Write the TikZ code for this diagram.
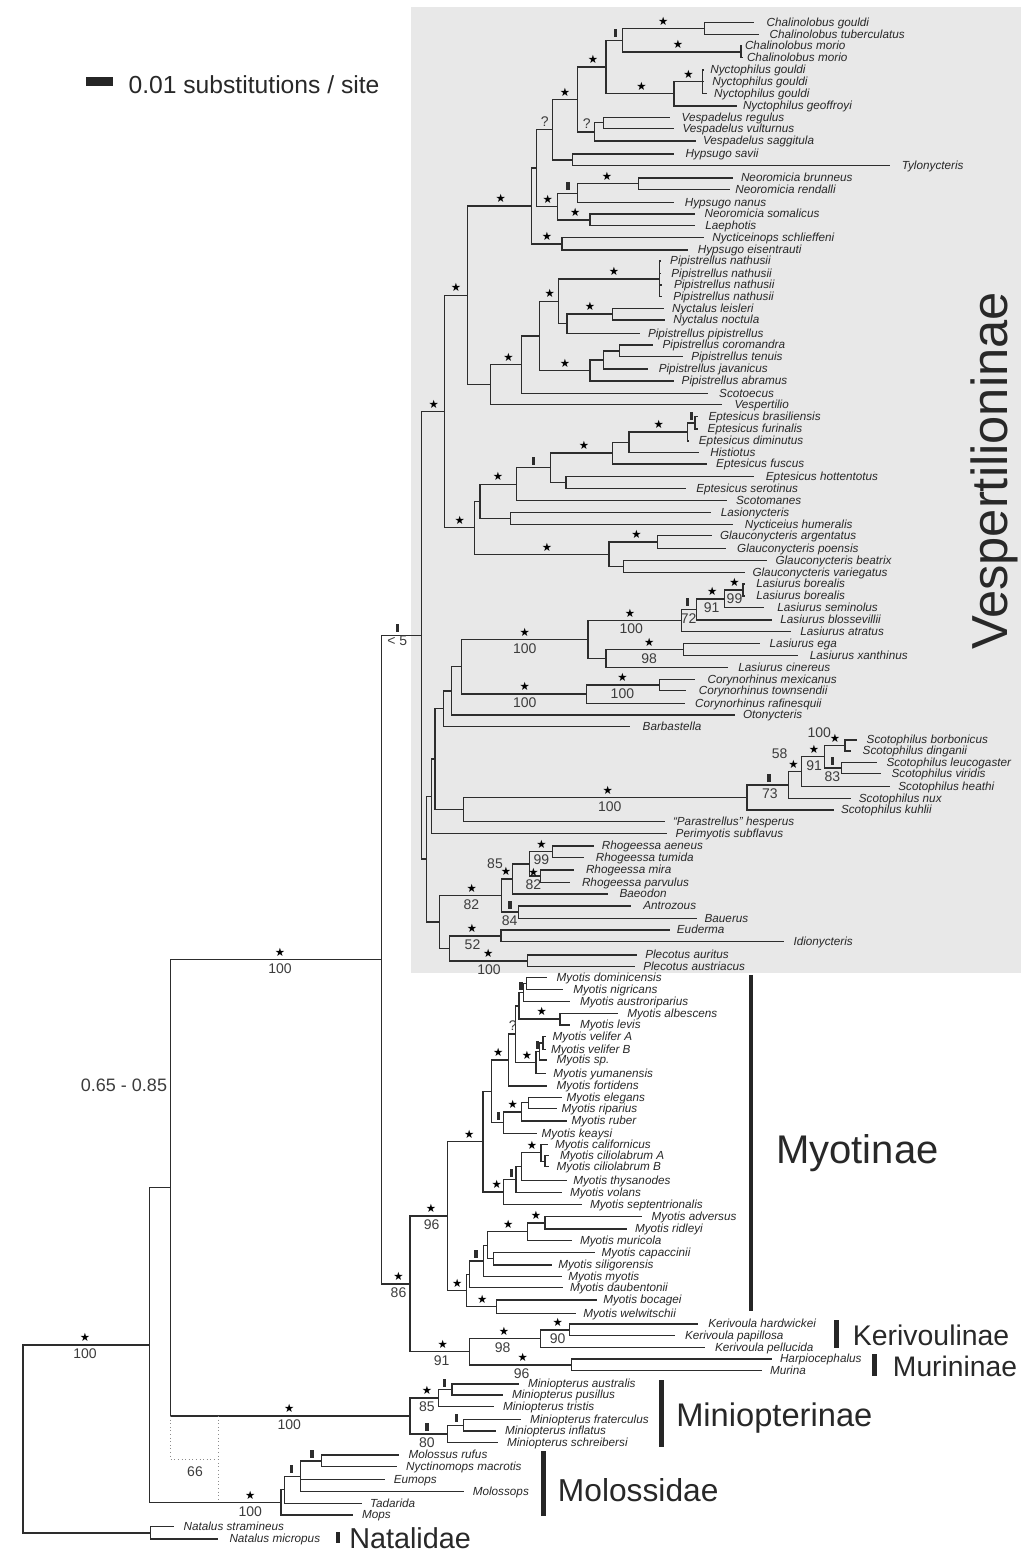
\documentclass[tikz,border=0pt]{standalone}
\usepackage{fontspec}
\setmainfont{Liberation Sans}
\newfontfamily\starfont{DejaVu Sans}
\usetikzlibrary{calc}
\definecolor{boxgray}{RGB}{232,232,232}
\definecolor{linec}{RGB}{45,45,45}
\definecolor{txtc}{RGB}{40,40,40}
\definecolor{valc}{RGB}{60,60,60}
\newcounter{annc}
\newcommand{\TTip}[5]{\coordinate (#1) at (#2,#4); \node[tiplab] (#1l) at (#3,#4) {#5};}
\newcommand{\TNode}[4]{\path ($(#3)!0.5!(#4)$) coordinate (#1m); \coordinate (#1) at (#2,0 |- #1m);}
\newcommand{\TBr}[2]{\foreach \chl in {#2} {\draw[br] (#1) |- (\chl);}}
\newcommand{\TBin}[4]{\TNode{#1}{#2}{#3}{#4}\TBr{#1}{#3,#4}}
\newcommand{\TStar}[2]{\stepcounter{annc}\node[stmark] (a\arabic{annc}) at (#1,0 |- #2) {★};}
\newcommand{\TStarAt}[2]{\stepcounter{annc}\node[stmark, yshift=-5.6pt] (a\arabic{annc}) at (#1,#2) {★};}
\newcommand{\TVal}[3]{\stepcounter{annc}\node[valb] (a\arabic{annc}) at (#1,0 |- #2) {#3};}
\newcommand{\TQ}[2]{\stepcounter{annc}\node[qmark] (a\arabic{annc}) at (#1,0 |- #2) {?};}
\newcommand{\TLab}[3]{\stepcounter{annc}\node[vala] (a\arabic{annc}) at (#1,#2) {#3};}
\newcommand{\TBar}[2]{\path (#1,0 |- #2) coordinate (bartmp); \fill[linec] ([shift={(-1.7,-11)}]bartmp) rectangle ([shift={(1.7,-3)}]bartmp);}
\tikzset{
 br/.style={draw=linec, line width=1pt},
 tiplab/.style={anchor=base west, inner sep=0pt, outer sep=0pt, yshift=-2.8pt, text=txtc, font=\fontsize{8.8}{9}\selectfont\itshape},
 stmark/.style={inner sep=0pt, yshift=5.6pt, text=black, font=\starfont\fontsize{8.6}{8.6}\selectfont},
 valb/.style={inner sep=0pt, yshift=-6.6pt, text=valc, font=\fontsize{10.5}{10.5}\selectfont},
 vala/.style={inner sep=0pt, text=valc, font=\fontsize{10.5}{10.5}\selectfont},
 qmark/.style={inner sep=0pt, yshift=6.3pt, text=valc, font=\fontsize{10.5}{10.5}\selectfont},
 clab/.style={anchor=base west, inner sep=0pt, text=txtc},
 cbar/.style={fill=black!85},
 dotline/.style={draw=black!45, line width=0.7pt, dotted},
}
\begin{document}
\begin{tikzpicture}[x=0.75pt,y=-0.75pt]
\useasboundingbox (0,0) rectangle (1035,1558);
\fill[boxgray] (411,7) rectangle (1021,973);
% ---------- tips ----------
\TTip{t1}{754.4}{766.7}{22.7}{Chalinolobus gouldi}
\TTip{t2}{759}{769.7}{34.3}{Chalinolobus tuberculatus}
\TTip{t3}{741.5}{745}{46}{Chalinolobus morio}
\TTip{t4}{743}{747}{57.7}{Chalinolobus morio}
\TTip{t5}{703.5}{710.4}{70}{Nyctophilus gouldi}
\TTip{t6}{704}{712.3}{81.7}{Nyctophilus gouldi}
\TTip{t7}{706.6}{714.2}{93.3}{Nyctophilus gouldi}
\TTip{t8}{737.2}{743}{106}{Nyctophilus geoffroyi}
\TTip{t9}{670.2}{681.7}{117.3}{Vespadelus regulus}
\TTip{t10}{674}{682.5}{128.3}{Vespadelus vulturnus}
\TTip{t11}{696}{703}{141}{Vespadelus saggitula}
\TTip{t12}{674}{685.5}{154}{Hypsugo savii}
\TTip{t13}{890.3}{901.8}{165.7}{Tylonycteris}
\TTip{t14}{733.4}{741}{178}{Neoromicia brunneus}
\TTip{t15}{729.5}{735.3}{189.3}{Neoromicia rendalli}
\TTip{t16}{674}{684.8}{202.7}{Hypsugo nanus}
\TTip{t17}{695.1}{704.7}{214}{Neoromicia somalicus}
\TTip{t18}{695.1}{705.4}{225.7}{Laephotis}
\TTip{t19}{704}{712.3}{237.7}{Nycticeinops schlieffeni}
\TTip{t20}{687.5}{697.8}{250}{Hypsugo eisentrauti}
\TTip{t21}{660.5}{670.2}{261}{Pipistrellus nathusii}
\TTip{t22}{661}{671.4}{273.3}{Pipistrellus nathusii}
\TTip{t23}{662}{674}{285}{Pipistrellus nathusii}
\TTip{t24}{662}{673.3}{296.7}{Pipistrellus nathusii}
\TTip{t25}{664}{672.1}{308.3}{Nyctalus leisleri}
\TTip{t26}{665}{673.3}{320}{Nyctalus noctula}
\TTip{t27}{639.6}{648}{333.3}{Pipistrellus pipistrellus}
\TTip{t28}{653}{662.6}{345}{Pipistrellus coromandra}
\TTip{t29}{682.5}{691.3}{356.7}{Pipistrellus tenuis}
\TTip{t30}{648}{658.8}{369}{Pipistrellus javanicus}
\TTip{t31}{674}{681.7}{381}{Pipistrellus abramus}
\TTip{t32}{707.7}{719.2}{393.3}{Scotoecus}
\TTip{t33}{721.9}{734.5}{404.3}{Vespertilio}
\TTip{t34}{697.8}{708.5}{416.7}{Eptesicus brasiliensis}
\TTip{t35}{697.8}{707.7}{429}{Eptesicus furinalis}
\TTip{t36}{689.4}{698.9}{441}{Eptesicus diminutus}
\TTip{t37}{698.9}{710.4}{452.7}{Histiotus}
\TTip{t38}{706.6}{716.2}{464}{Eptesicus fuscus}
\TTip{t39}{754.4}{765.9}{476.7}{Eptesicus hottentotus}
\TTip{t40}{685.5}{696.3}{488.3}{Eptesicus serotinus}
\TTip{t41}{727}{736.1}{500.7}{Scotomanes}
\TTip{t42}{711.2}{720.8}{512.3}{Lasionycteris}
\TTip{t43}{733.4}{744.9}{524.3}{Nycticeius humeralis}
\TTip{t44}{712}{720}{535.7}{Glauconycteris argentatus}
\TTip{t45}{725.7}{737.2}{548.3}{Glauconycteris poensis}
\TTip{t46}{767}{775.5}{560.7}{Glauconycteris beatrix}
\TTip{t47}{745}{752.5}{572.7}{Glauconycteris variegatus}
\TTip{t48}{745}{756.3}{584}{Lasiurus borealis}
\TTip{t49}{745}{756.3}{596}{Lasiurus borealis}
\TTip{t50}{764}{777.4}{607.7}{Lasiurus seminolus}
\TTip{t51}{771.6}{780.4}{620}{Lasiurus blossevillii}
\TTip{t52}{790.8}{800.4}{631.3}{Lasiurus atratus}
\TTip{t53}{760.2}{769.7}{643.3}{Lasiurus ega}
\TTip{t54}{798.4}{809.9}{655.7}{Lasiurus xanthinus}
\TTip{t55}{727.6}{738.4}{667.3}{Lasiurus cinereus}
\TTip{t56}{695.1}{707.7}{679.3}{Corynorhinus mexicanus}
\TTip{t57}{685.5}{698.9}{690.7}{Corynorhinus townsendii}
\TTip{t58}{684.8}{695.1}{703.3}{Corynorhinus rafinesquii}
\TTip{t59}{735}{743}{715}{Otonycteris}
\TTip{t60}{630}{642.7}{726.3}{Barbastella}
\TTip{t61}{856.8}{866.7}{740}{Scotophilus borbonicus}
\TTip{t62}{850.9}{862.7}{751}{Scotophilus dinganii}
\TTip{t63}{876.6}{886.5}{762.7}{Scotophilus leucogaster}
\TTip{t64}{880.5}{891.6}{773.3}{Scotophilus viridis}
\TTip{t65}{890}{898.3}{786.7}{Scotophilus heathi}
\TTip{t66}{850.9}{858.8}{798.3}{Scotophilus nux}
\TTip{t67}{834}{841}{810}{Scotophilus kuhlii}
\TTip{t68}{665}{673}{821.7}{``Parastrellus'' hesperus}
\TTip{t69}{667}{675.7}{833.3}{Perimyotis subflavus}
\TTip{t70}{593.9}{601.8}{846}{Rhogeessa aeneus}
\TTip{t71}{584}{595.8}{857.3}{Rhogeessa tumida}
\TTip{t72}{574.1}{586}{870}{Rhogeessa mira}
\TTip{t73}{570.1}{582}{882.3}{Rhogeessa parvulus}
\TTip{t74}{607.7}{619.6}{894}{Baeodon}
\TTip{t75}{631.4}{643.3}{906}{Antrozous}
\TTip{t76}{697}{704.6}{918.3}{Bauerus}
\TTip{t77}{670}{676.9}{930}{Euderma}
\TTip{t78}{783.7}{793.5}{941.7}{Idionycteris}
\TTip{t79}{637}{645.3}{955}{Plecotus auritus}
\TTip{t80}{635}{643.3}{966.7}{Plecotus austriacus}
\TTip{t81}{546.7}{556.7}{977.3}{Myotis dominicensis}
\TTip{t82}{563.3}{573.3}{989.3}{Myotis nigricans}
\TTip{t83}{570}{580}{1001.7}{Myotis austroriparius}
\TTip{t84}{618.3}{627.3}{1013.3}{Myotis albescens}
\TTip{t85}{570}{580}{1025}{Myotis levis}
\TTip{t86}{546}{552.7}{1036.7}{Myotis velifer A}
\TTip{t87}{546}{551}{1049.3}{Myotis velifer B}
\TTip{t88}{547}{556.7}{1060}{Myotis sp.}
\TTip{t89}{546}{553.3}{1073.3}{Myotis yumanensis}
\TTip{t90}{546.7}{556.7}{1086}{Myotis fortidens}
\TTip{t91}{561.7}{566.7}{1097.3}{Myotis elegans}
\TTip{t92}{556.7}{561.7}{1108.3}{Myotis riparius}
\TTip{t93}{566.7}{571.7}{1121}{Myotis ruber}
\TTip{t94}{536.7}{541.7}{1133.3}{Myotis keaysi}
\TTip{t95}{548.3}{555}{1144.3}{Myotis californicus}
\TTip{t96}{549}{560}{1155.7}{Myotis ciliolabrum A}
\TTip{t97}{549}{556.7}{1166.7}{Myotis ciliolabrum B}
\TTip{t98}{566.7}{573.3}{1180.7}{Myotis thysanodes}
\TTip{t99}{562}{570}{1192.3}{Myotis volans}
\TTip{t100}{582}{590}{1204.3}{Myotis septentrionalis}
\TTip{t101}{641.7}{651.7}{1216.7}{Myotis adversus}
\TTip{t102}{626.7}{635}{1229}{Myotis ridleyi}
\TTip{t103}{572}{580}{1240.7}{Myotis muricola}
\TTip{t104}{595}{601.7}{1252.3}{Myotis capaccinii}
\TTip{t105}{551.7}{558.3}{1265}{Myotis siligorensis}
\TTip{t106}{561.7}{568.3}{1276.7}{Myotis myotis}
\TTip{t107}{563}{570}{1287.7}{Myotis daubentonii}
\TTip{t108}{597}{603.3}{1300}{Myotis bocagei}
\TTip{t109}{576}{583.3}{1313.3}{Myotis welwitschii}
\TTip{t110}{698.3}{708.3}{1324}{Kerivoula hardwickei}
\TTip{t111}{675}{685}{1335.7}{Kerivoula papillosa}
\TTip{t112}{705}{715}{1347.3}{Kerivoula pellucida}
\TTip{t113}{771.7}{780}{1359}{Harpiocephalus}
\TTip{t114}{761.7}{770}{1370.7}{Murina}
\TTip{t115}{519}{528}{1384}{Miniopterus australis}
\TTip{t116}{503}{512}{1395}{Miniopterus pusillus}
\TTip{t117}{494}{503}{1406.7}{Miniopterus tristis}
\TTip{t118}{521}{530}{1419.3}{Miniopterus fraterculus}
\TTip{t119}{496}{505}{1431}{Miniopterus inflatus}
\TTip{t120}{498}{507}{1442.7}{Miniopterus schreibersi}
\TTip{t121}{399}{408.5}{1455}{Molossus rufus}
\TTip{t122}{397}{406.2}{1466.7}{Nyctinomops macrotis}
\TTip{t123}{385}{393.8}{1479.3}{Eumops}
\TTip{t124}{463.6}{472.8}{1491.7}{Molossops}
\TTip{t125}{362}{370}{1503.3}{Tadarida}
\TTip{t126}{353}{362}{1515}{Mops}
\TTip{t127}{174.4}{183.6}{1526.7}{Natalus stramineus}
\TTip{t128}{218}{229.5}{1539}{Natalus micropus}
% ---------- internal nodes ----------
\TBin{n_cg}{704.7}{t1}{t2}
\TBin{n_cm}{741}{t3}{t4}
\TBin{n_ch}{622.4}{n_cg}{n_cm}
\TNode{n_ng3}{702.8}{t5}{t7}\TBr{n_ng3}{t5,t6,t7}
\TBin{n_ny}{674}{n_ng3}{t8}
\TBin{n_chny}{606}{n_ch}{n_ny}
\TBin{n_v1}{603.3}{t9}{t10}
\TBin{n_v2}{594.8}{n_v1}{t11}
\TBin{n_ChNyV}{577.2}{n_chny}{n_v2}
\TBin{n_hs}{572.6}{t12}{t13}
\TBin{n_A}{552.4}{n_ChNyV}{n_hs}
\TBin{n_nr}{638.5}{t14}{t15}
\TBin{n_neo1}{577.2}{n_nr}{t16}
\TBin{n_sl}{589.9}{t17}{t18}
\TBin{n_neo2}{557.3}{n_neo1}{n_sl}
\TBin{n_P}{536.3}{n_A}{n_neo2}
\TBin{n_nyc}{561.9}{t19}{t20}
\TBin{n_Q}{531.7}{n_P}{n_nyc}
\TNode{n_nat}{659.5}{t21}{t24}\TBr{n_nat}{t21,t22,t23,t24}
\TBin{n_nyct}{612.8}{t25}{t26}
\TBin{n_pn2}{566.9}{n_nyct}{t27}
\TBin{n_pn3}{558.5}{n_nat}{n_pn2}
\TBin{n_pj}{619.7}{t28}{t29}
\TBin{n_pj2}{603.3}{n_pj}{t30}
\TBin{n_pj3}{589.9}{n_pj2}{t31}
\TBin{n_pn4}{539.4}{n_pn3}{n_pj3}
\TBin{n_pn5}{521.7}{n_pn4}{t32}
\TBin{n_pn6}{490.4}{n_pn5}{t33}
\TBin{n_V1}{467.4}{n_Q}{n_pn6}
\TBin{n_eb}{695.1}{t34}{t35}
\TBin{n_eb2}{687.5}{n_eb}{t36}
\TBin{n_eb3}{628.9}{n_eb2}{t37}
\TBin{n_eb4}{612.8}{n_eb3}{t38}
\TBin{n_eh}{566.1}{t39}{t40}
\TBin{n_eb5}{550.8}{n_eb4}{n_eh}
\TBin{n_eb6}{516.4}{n_eb5}{t41}
\TBin{n_ln}{510.3}{t42}{t43}
\TBin{n_eb7}{480}{n_eb6}{n_ln}
\TBin{n_ga}{657.6}{t44}{t45}
\TBin{n_gb}{623.5}{t46}{t47}
\TBin{n_gl}{609}{n_ga}{n_gb}
\TBin{n_E}{474.3}{n_eb7}{n_gl}
\TBin{n_VVE}{444.4}{n_V1}{n_E}
\TBin{n_lb}{743}{t48}{t49}
\TBin{n_lb2}{724.6}{n_lb}{t50}
\TBin{n_lb3}{696.3}{n_lb2}{t51}
\TBin{n_lb4}{681.7}{n_lb3}{t52}
\TBin{n_le}{683.6}{t53}{t54}
\TBin{n_le2}{605.9}{n_le}{t55}
\TBin{n_las}{588}{n_lb4}{n_le2}
\TBin{n_cm2}{659.5}{t56}{t57}
\TBin{n_cor}{586.8}{n_cm2}{t58}
\TBin{n_lc}{461.7}{n_las}{n_cor}
\TBin{n_lco}{451.3}{n_lc}{t59}
\TBin{n_lcob}{443.7}{n_lco}{t60}
\TBin{n_sb}{844.9}{t61}{t62}
\TBin{n_sl2}{841.8}{t63}{t64}
\TBin{n_s3}{824.4}{n_sb}{n_sl2}
\TBin{n_s4}{801.4}{n_s3}{t65}
\TBin{n_s5}{788.8}{n_s4}{t66}
\TBin{n_s6}{746.9}{n_s5}{t67}
\TBin{n_sp}{463.4}{n_s6}{t68}
\TBin{n_X1}{434.9}{n_lcob}{n_sp}
\TBin{n_X2}{431.7}{n_X1}{t69}
\TBin{n_ra}{552.3}{t70}{t71}
\TBin{n_rm}{540.5}{t72}{t73}
\TBin{n_r3}{529.8}{n_ra}{n_rm}
\TBin{n_r4}{512.8}{n_r3}{t74}
\TBin{n_ab}{518.7}{t75}{t76}
\TBin{n_r5}{501.7}{n_r4}{n_ab}
\TBin{n_ei}{500.9}{t77}{t78}
\TBin{n_pl}{527.8}{t79}{t80}
\TBin{n_ep}{449.5}{n_ei}{n_pl}
\TBin{n_R}{439.7}{n_r5}{n_ep}
\TBin{n_X3}{426.6}{n_X2}{n_R}
\TBin{n_Ves}{421.5}{n_VVE}{n_X3}
\TBin{n_m1}{526.7}{t81}{t82}
\TBin{n_m2}{523.3}{n_m1}{t83}
\TBin{n_al}{560}{t84}{t85}
\TBin{n_m3}{519}{n_m2}{n_al}
\TBin{n_vel}{543}{t86}{t87}
\TBin{n_vs}{539.5}{n_vel}{t88}
\TBin{n_vy}{536}{n_vs}{t89}
\TBin{n_m4}{515.5}{n_m3}{n_vy}
\TBin{n_m5}{508.3}{n_m4}{t90}
\TBin{n_er}{528.3}{t91}{t92}
\TBin{n_er2}{521.7}{n_er}{t93}
\TBin{n_erk}{503.3}{n_er2}{t94}
\TBin{n_m6}{491.7}{n_m5}{n_erk}
\TBin{n_cab}{545}{t96}{t97}
\TBin{n_ccc}{541}{t95}{n_cab}
\TBin{n_ct}{521.7}{n_ccc}{t98}
\TBin{n_ctv}{516}{n_ct}{t99}
\TBin{n_cts}{503.3}{n_ctv}{t100}
\TBin{n_m7}{483}{n_m6}{n_cts}
\TBin{n_ar}{545}{t101}{t102}
\TBin{n_amu}{527.3}{n_ar}{t103}
\TBin{n_cs}{493.3}{t104}{t105}
\TBin{n_x}{487.3}{n_amu}{n_cs}
\TBin{n_y}{483.3}{n_x}{t106}
\TBin{n_z}{469.3}{n_y}{t107}
\TBin{n_bw}{496.7}{t108}{t109}
\TBin{n_w}{466.7}{n_z}{n_bw}
\TBin{n_m8}{447.3}{n_m7}{n_w}
\TBin{n_k1}{569.3}{t110}{t111}
\TBin{n_k2}{540.7}{n_k1}{t112}
\TBin{n_mu}{571.7}{t113}{t114}
\TBin{n_km}{469.3}{n_k2}{n_mu}
\TBin{n_m9}{410}{n_m8}{n_km}
\TBin{n_VM}{381.7}{n_Ves}{n_m9}
\TBin{n_mi1}{452.1}{t115}{t116}
\TBin{n_mi2}{438.3}{n_mi1}{t117}
\TBin{n_mi3}{463.6}{t118}{t119}
\TBin{n_mi4}{447.5}{n_mi3}{t120}
\TBin{n_mi}{409.9}{n_mi2}{n_mi4}
\TBin{n_VMM}{170.7}{n_VM}{n_mi}
\TBin{n_mo1}{321.3}{t121}{t122}
\TNode{n_mo3}{300.6}{n_mo1}{t124}\TBr{n_mo3}{n_mo1,t123,t124}
\TBin{n_mo4}{284.6}{n_mo3}{t125}
\TBin{n_mo5}{281}{n_mo4}{t126}
\TBin{n_MMV}{149.2}{n_VMM}{n_mo5}
\TBin{n_na}{150.6}{t127}{t128}
\TBin{root}{23}{n_MMV}{n_na}
% alternative (dotted) grouping
\coordinate (altC) at (n_VMM |- n_mi);
\coordinate (altT) at (218,0 |- n_mi);
\coordinate (altB) at (218,0 |- n_mo5);
\path ($(altT)!0.5!(altB)$) coordinate (altM);
\draw[dotline] (altT) -- (altB);
\draw[dotline] (altC) |- (altM);
% ---------- support marks ----------
\TStar{663.3}{n_cg}
\TStar{677.9}{n_cm}
\TBar{615.5}{n_ch}
\TStar{688.6}{n_ng3}
\TStar{641.5}{n_ny}
\TStar{592.9}{n_chny}
\TStar{565}{n_ChNyV}
\TQ{586.8}{n_v2}
\TQ{544.7}{n_A}
\TStar{607.1}{n_nr}
\TBar{568}{n_neo1}
\TStar{547.8}{n_neo2}
\TStar{575.3}{n_sl}
\TStar{547}{n_nyc}
\TStar{500.7}{n_Q}
\TStar{455.9}{n_V1}
\TStar{614}{n_nat}
\TStar{589.9}{n_nyct}
\TStar{549.7}{n_pn3}
\TStar{565}{n_pj3}
\TStar{508.4}{n_pn5}
\TStar{433.7}{n_VVE}
\TBar{691.3}{n_eb}
\TStar{658.8}{n_eb2}
\TStar{584.1}{n_eb4}
\TBar{533.6}{n_eb5}
\TStar{498}{n_eb6}
\TStar{636.6}{n_ga}
\TStar{547}{n_gl}
\TStar{459.8}{n_E}
\TStar{734.5}{n_lb}\TVal{734.5}{n_lb}{99}
\TStar{712.3}{n_lb2}\TVal{711.6}{n_lb2}{91}
\TBar{687.5}{n_lb3}\TVal{688.6}{n_lb3}{72}
\TStar{630}{n_lb4}\TVal{631.2}{n_lb4}{100}
\TStar{649.2}{n_le}\TVal{649.2}{n_le}{98}
\TStar{524.8}{n_las}\TVal{524.8}{n_las}{100}
\TStar{622.4}{n_cm2}\TVal{622.4}{n_cm2}{100}
\TStar{524.8}{n_cor}\TVal{524.8}{n_cor}{100}
\TStar{835}{n_sb}\TLab{819.2}{732.7}{100}
\TStar{814.1}{n_s3}\TVal{814.1}{n_s3}{91}
\TBar{832.3}{n_sl2}\TVal{832.3}{n_sl2}{83}
\TStar{793.5}{n_s4}\TLab{779.7}{753.3}{58}
\TBar{769}{n_s5}\TVal{769.8}{n_s5}{73}
\TStar{607.7}{n_s6}\TVal{609.7}{n_s6}{100}
\TStar{541.5}{n_ra}\TLab{541.3}{859.3}{99}
\TStarAt{533.6}{872.8}\TVal{533.4}{n_rm}{82}
\TStar{506.1}{n_r4}\TLab{495}{864}{85}
\TStar{471.7}{n_r5}\TVal{471.3}{n_r5}{82}
\TBar{510}{n_ab}\TVal{509.6}{n_ab}{84}
\TStar{472.1}{n_ei}\TVal{472.5}{n_ei}{52}
\TStar{488.3}{n_pl}\TVal{489.1}{n_pl}{100}
\TBar{397.3}{n_Ves}\TLab{397.3}{641}{< 5}
\TStar{280}{n_VM}\TVal{280}{n_VM}{100}
\TBar{520.8}{n_m2}
\TStar{541.7}{n_al}
\TStar{527}{n_vy}
\TBar{537.7}{n_vs}
\TQ{512.7}{n_m4}
\TStar{498.3}{n_m5}
\TStar{512.7}{n_er2}
\TBar{498.3}{n_erk}
\TStar{469.3}{n_m7}
\TStar{532}{n_ccc}
\TBar{511.7}{n_ctv}
\TStar{496.7}{n_cts}
\TStar{536}{n_ar}
\TStar{508.3}{n_amu}
\TBar{476}{n_y}
\TStar{482.3}{n_bw}
\TStar{457.3}{n_w}
\TStar{398.5}{n_m9}\TVal{398.5}{n_m9}{86}
\TStar{431}{n_m8}\TVal{431.7}{n_m8}{96}
\TStar{442.7}{n_km}\TVal{441.7}{n_km}{91}
\TStar{504}{n_k2}\TVal{502.7}{n_k2}{98}
\TStar{557.7}{n_k1}\TVal{557.7}{n_k1}{90}
\TStar{522.7}{n_mu}\TVal{521.7}{n_mu}{96}
\TStar{85}{n_MMV}\TVal{85}{n_MMV}{100}
\TStar{289.2}{n_mi}\TVal{289.2}{n_mi}{100}
\TStar{250.2}{n_mo5}\TVal{250.2}{n_mo5}{100}
\TStar{426.9}{n_mi2}\TVal{426.9}{n_mi2}{85}
\TBar{426.9}{n_mi4}\TVal{426.9}{n_mi4}{80}
\TBar{444.3}{n_mi1}
\TBar{456.7}{n_mi3}
\TBar{312.1}{n_mo1}
\TBar{291.5}{n_mo3}
\TLab{195}{1471.7}{66}
\node[inner sep=0pt, text=valc, font=\fontsize{13.5}{13.5}\selectfont] (range) at (124,1085) {0.65 - 0.85};
% ---------- scale bar ----------
\fill[black!85] (86,77.3) rectangle (112.7,86);
\node[clab, font=\fontsize{18.5}{18.5}\selectfont] (scale) at (128.3,94) {0.01 substitutions / site};
% ---------- clade labels ----------
\node[clab, rotate=90, font=\fontsize{38}{38}\selectfont] (lVes) at (1007,650) {Vespertilioninae};
\fill[cbar] (748.5,975) rectangle (753,1311);
\node[clab, font=\fontsize{30}{30}\selectfont] (lMyo) at (776,1163.3) {Myotinae};
\fill[cbar] (834,1320) rectangle (838.5,1348);
\node[clab, font=\fontsize{21.3}{21.3}\selectfont] (lKer) at (852.7,1345) {Kerivoulinae};
\fill[cbar] (872,1354) rectangle (876.5,1376);
\node[clab, font=\fontsize{21.2}{21.2}\selectfont] (lMur) at (892.7,1376) {Murininae};
\fill[cbar] (659,1380) rectangle (663.5,1447);
\node[clab, font=\fontsize{24.5}{24.5}\selectfont] (lMin) at (676,1426.7) {Miniopterinae};
\fill[cbar] (541,1451) rectangle (545.5,1516);
\node[clab, font=\fontsize{23.8}{23.8}\selectfont] (lMol) at (557.7,1501.7) {Molossidae};
\fill[cbar] (335.5,1531.7) rectangle (340,1543.3);
\node[clab, font=\fontsize{21.6}{21.6}\selectfont] (lNat) at (349,1548) {Natalidae};
\end{tikzpicture}
\end{document}
